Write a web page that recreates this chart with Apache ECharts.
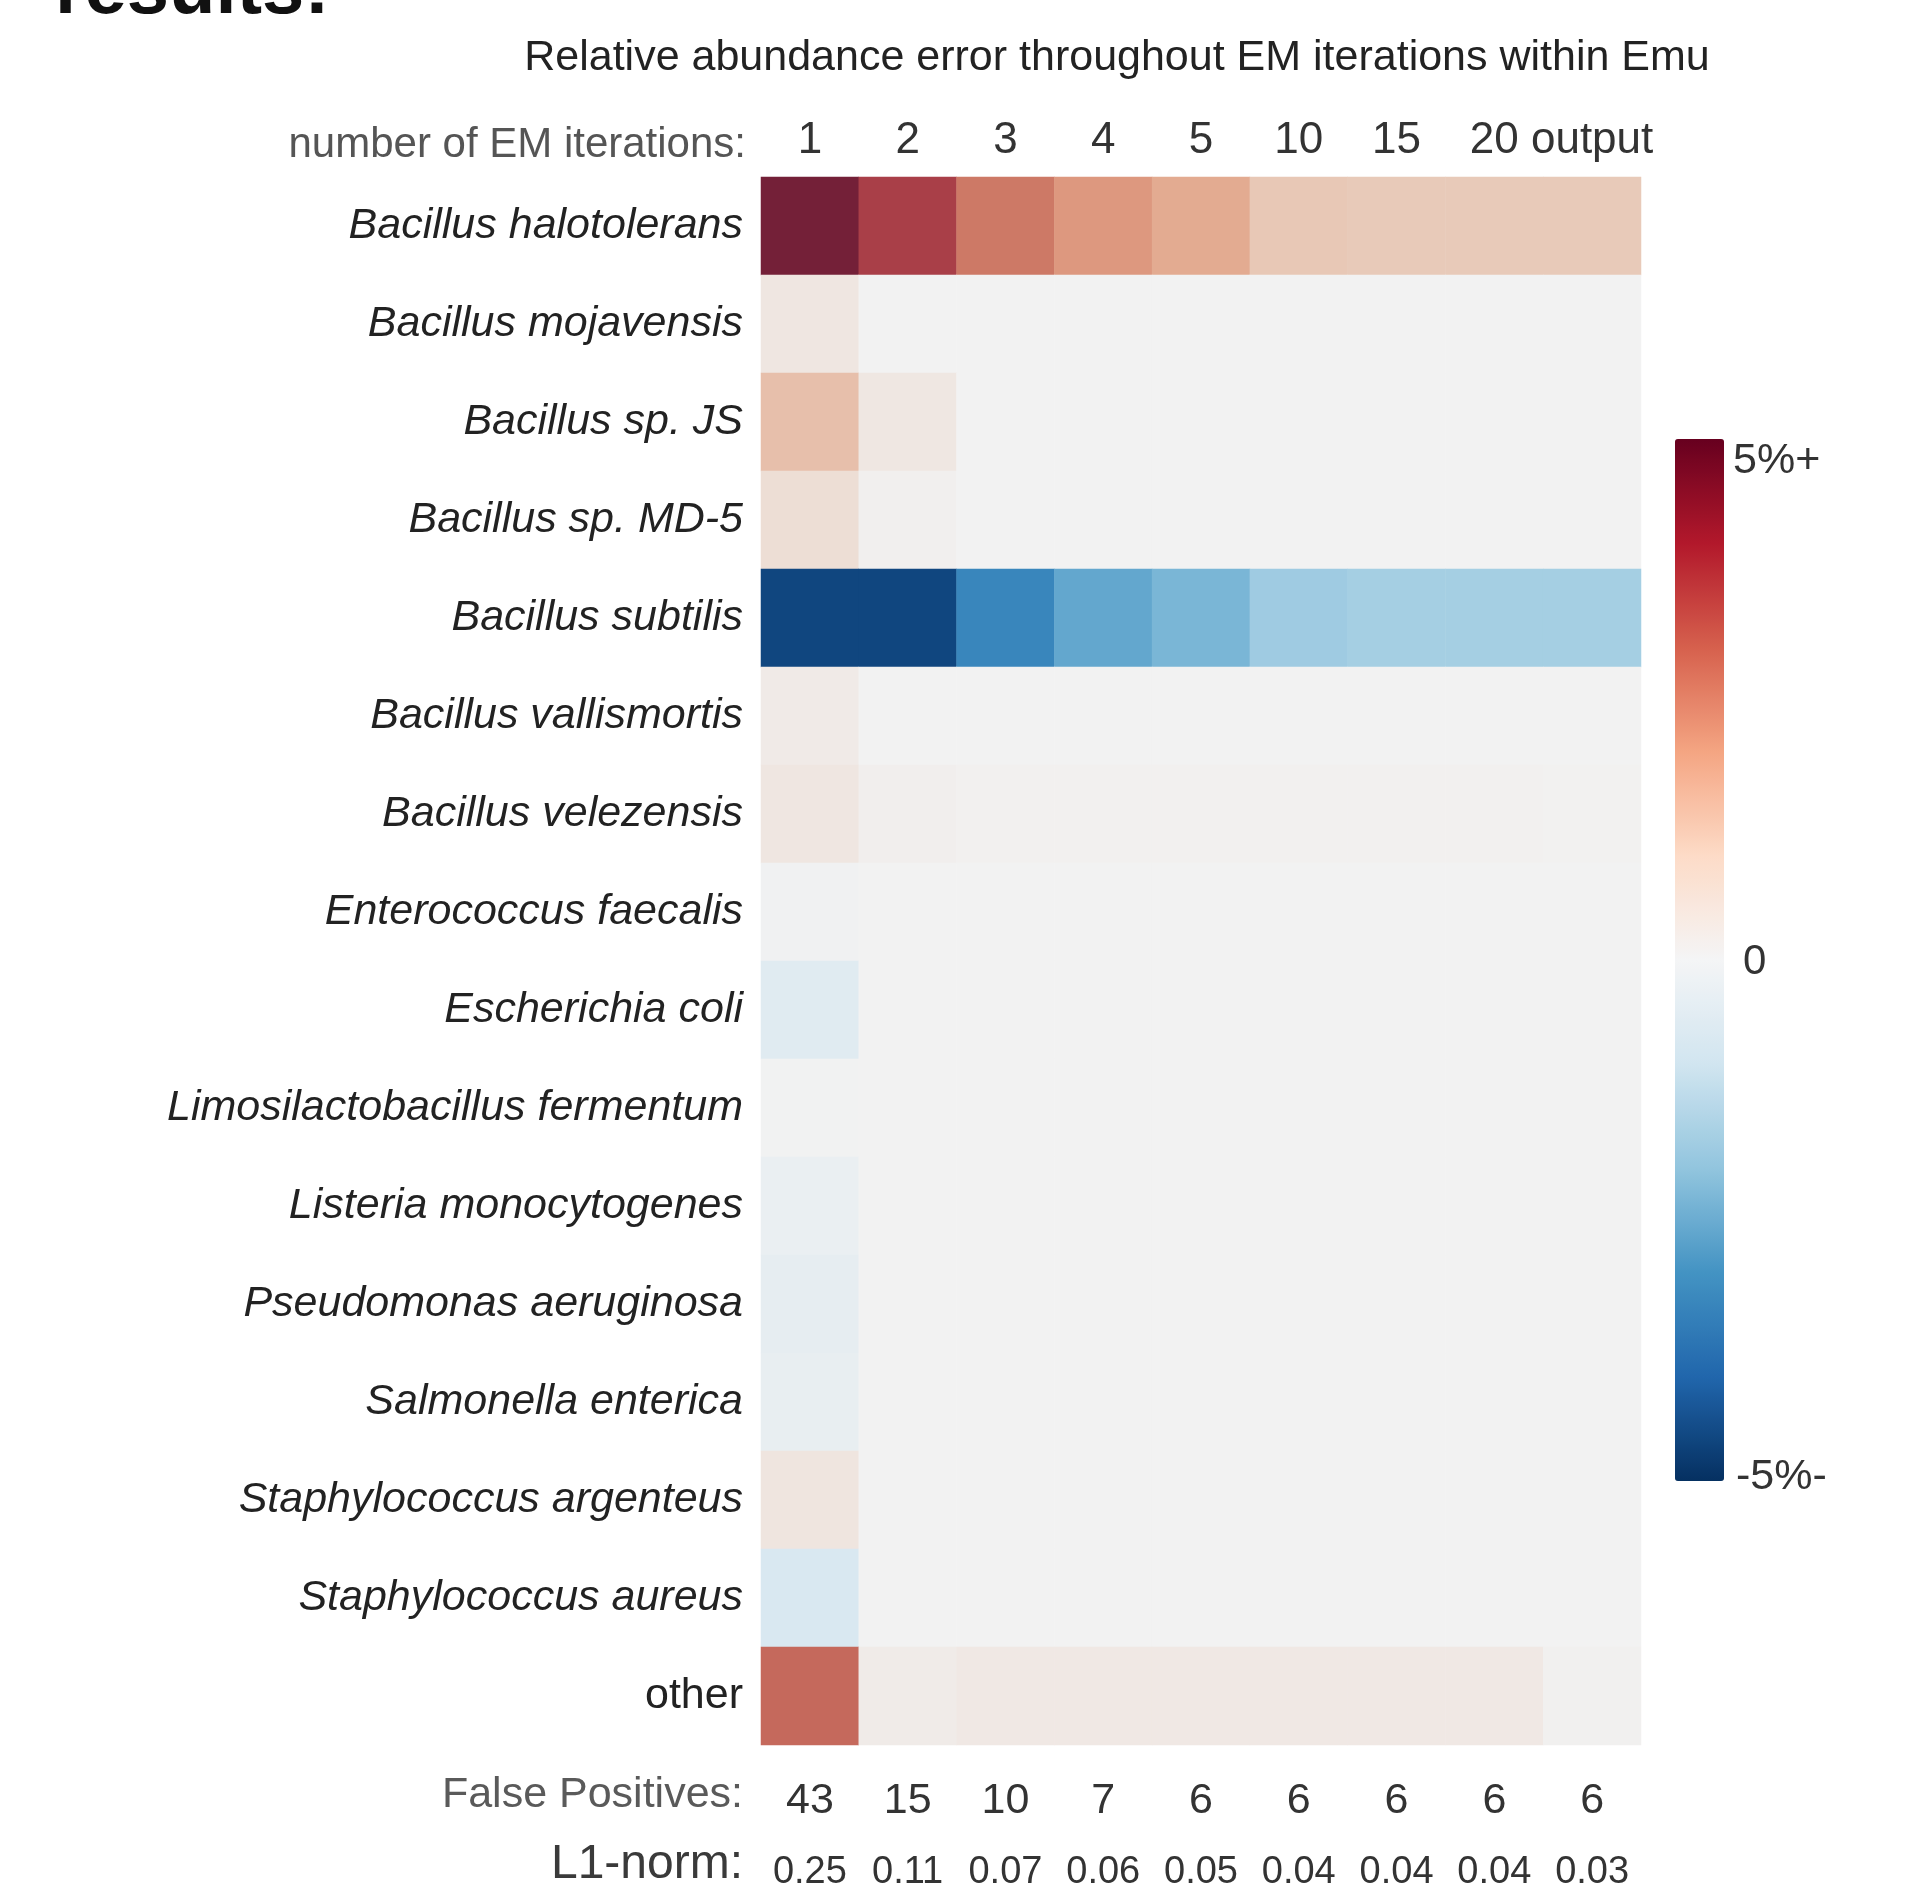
<!DOCTYPE html>
<html>
<head>
<meta charset="utf-8">
<script src="https://cdn.jsdelivr.net/npm/echarts@6/dist/echarts.min.js"></script>
<style>
  html, body { margin: 0; padding: 0; background: #fff; }
  #chart { width: 1923px; height: 1887px; }
</style>
</head>
<body>
<div id="chart"></div>
<script>
const species = [
  "Bacillus halotolerans",
  "Bacillus mojavensis",
  "Bacillus sp. JS",
  "Bacillus sp. MD-5",
  "Bacillus subtilis",
  "Bacillus vallismortis",
  "Bacillus velezensis",
  "Enterococcus faecalis",
  "Escherichia coli",
  "Limosilactobacillus fermentum",
  "Listeria monocytogenes",
  "Pseudomonas aeruginosa",
  "Salmonella enterica",
  "Staphylococcus argenteus",
  "Staphylococcus aureus",
  "other",
];
const iterations = ["1", "2", "3", "4", "5", "10", "15", "20", "output"];
const falsePositives = ["43", "15", "10", "7", "6", "6", "6", "6", "6"];
const l1Norm = ["0.25", "0.11", "0.07", "0.06", "0.05", "0.04", "0.04", "0.04", "0.03"];

// relative abundance error (%), one row per species, one value per iteration column
const relError = [
  [4.95, 3.9, 2.8, 2.2, 1.82, 1.15, 1.1, 1.1, 1.1],
  [0.33, 0, 0, 0, 0, 0, 0, 0, 0],
  [1.35, 0.3, 0, 0, 0, 0, 0, 0, 0],
  [0.55, 0.08, 0, 0, 0, 0, 0, 0, 0],
  [-4.6, -4.6, -3.3, -2.6, -2.3, -1.8, -1.7, -1.7, -1.7],
  [0.22, 0, 0, 0, 0, 0, 0, 0, 0],
  [0.32, 0.1, 0.05, 0.05, 0.05, 0.05, 0.05, 0.05, 0.03],
  [-0.05, 0, 0, 0, 0, 0, 0, 0, 0],
  [-0.55, 0, 0, 0, 0, 0, 0, 0, 0],
  [-0.02, 0, 0, 0, 0, 0, 0, 0, 0],
  [-0.25, 0, 0, 0, 0, 0, 0, 0, 0],
  [-0.35, 0, 0, 0, 0, 0, 0, 0, 0],
  [-0.3, 0, 0, 0, 0, 0, 0, 0, 0],
  [0.36, 0, 0, 0, 0, 0, 0, 0, 0],
  [-0.75, 0, 0, 0, 0, 0, 0, 0, 0],
  [3.1, 0.2, 0.27, 0.27, 0.27, 0.27, 0.27, 0.27, 0.06],
];
const colorbarLabels = ["5%+", "0", "-5%-"];

// colour bar (RdBu) and the slightly duller tones the cells are printed in
const rdBu = ["#053061", "#2166ac", "#4393c3", "#92c5de", "#d1e5f0", "#f4f5f6",
  "#fddbc7", "#f4a582", "#d6604d", "#b2182b", "#67001f"];
const cellTones = ["#053061", "#2166ac", "#4393c3", "#92c5de", "#d1e5f0", "#f2f2f2",
  "#e9cebe", "#e2a387", "#c86e5e", "#a63a45", "#711f37"];

const font = "'Liberation Sans', Arial, Helvetica, sans-serif";

// layout
const gridLeft = 761, gridTop = 177, gridW = 880, gridH = 1568;
const barLeft = 1675, barTop = 439, barW = 49, barH = 1042;

const cells = [];
relError.forEach((row, i) => {
  row.forEach((v, j) => cells.push([j, i, v]));
});

const chart = echarts.init(document.getElementById("chart"), null, { renderer: "canvas" });

const option = {
  backgroundColor: "#fff",
  animation: false,
  textStyle: { fontFamily: font },
  title: {
    text: "Relative abundance error throughout EM iterations within Emu",
    left: 1112,
    top: 32,
    textAlign: "center",
    textStyle: { fontSize: 43, fontWeight: "normal", color: "#222", fontFamily: font },
  },
  grid: {
    left: gridLeft,
    top: gridTop,
    width: gridW,
    height: gridH,
    containLabel: false,
    outerBoundsMode: "none",
  },
  xAxis: [
    {
      type: "category",
      data: iterations,
      position: "top",
      axisLine: { show: false },
      axisTick: { show: false },
      splitLine: { show: false },
      axisLabel: { fontSize: 44, color: "#333", margin: 14, interval: 0 },
    },
    {
      type: "category",
      data: falsePositives,
      position: "bottom",
      axisLine: { show: false },
      axisTick: { show: true, inside: true, alignWithLabel: true, length: 7, lineStyle: { color: "#c8c8c8", width: 2 } },
      axisLabel: { fontSize: 43, color: "#333", margin: 35, interval: 0 },
    },
    {
      type: "category",
      data: l1Norm,
      position: "bottom",
      axisLine: { show: false },
      axisTick: { show: false },
      axisLabel: { fontSize: 38, color: "#333", margin: 109, interval: 0 },
    },
  ],
  yAxis: {
    type: "category",
    data: species,
    inverse: true,
    axisLine: { show: false },
    axisTick: { show: true, inside: true, alignWithLabel: true, length: 6, lineStyle: { color: "#777", width: 2 } },
    splitLine: { show: false },
    axisLabel: {
      fontSize: 43,
      color: "#222",
      margin: 18,
      interval: 0,
      formatter: (v) => (v === "other" ? "{n|" + v + "}" : "{i|" + v + "}"),
      rich: {
        i: { fontSize: 43, fontStyle: "italic", color: "#222", fontFamily: font },
        n: { fontSize: 43, color: "#222", fontFamily: font },
      },
    },
  },
  visualMap: [
    {
      type: "continuous",
      seriesIndex: 0,
      show: false,
      min: -5,
      max: 5,
      inRange: { color: cellTones },
    },
    {
      type: "continuous",
      seriesIndex: 1,
      min: -5,
      max: 5,
      calculable: false,
      orient: "vertical",
      left: barLeft,
      top: barTop,
      itemWidth: barW,
      itemHeight: barH,
      padding: 0,
      text: null,
      hoverLink: false,
      inRange: { color: rdBu },
    },
  ],
  graphic: [
    {
      type: "text",
      left: 55,
      top: -46,
      style: { text: "results:", font: "bold 76px " + font, fill: "#111" },
    },
    {
      type: "text",
      x: gridLeft - 15,
      y: 145,
      style: { text: "number of EM iterations:", font: "42px " + font, fill: "#555", textAlign: "right", textVerticalAlign: "middle" },
    },
    {
      type: "text",
      x: gridLeft - 18,
      y: 1795,
      style: { text: "False Positives:", font: "43px " + font, fill: "#5a5a5a", textAlign: "right", textVerticalAlign: "middle" },
    },
    {
      type: "text",
      x: gridLeft - 18,
      y: 1865,
      style: { text: "L1-norm:", font: "48px " + font, fill: "#3a3a3a", textAlign: "right", textVerticalAlign: "middle" },
    },
    {
      type: "text",
      x: barLeft + barW + 9,
      y: barTop + 22,
      style: { text: colorbarLabels[0], font: "43px " + font, fill: "#333", textAlign: "left", textVerticalAlign: "middle" },
    },
    {
      type: "text",
      x: barLeft + barW + 19,
      y: barTop + barH / 2 + 2,
      style: { text: colorbarLabels[1], font: "42px " + font, fill: "#333", textAlign: "left", textVerticalAlign: "middle" },
    },
    {
      type: "text",
      x: barLeft + barW + 12,
      y: barTop + barH - 4,
      style: { text: colorbarLabels[2], font: "43px " + font, fill: "#333", textAlign: "left", textVerticalAlign: "middle" },
    },
  ],
  series: [
    {
      type: "heatmap",
      xAxisIndex: 0,
      yAxisIndex: 0,
      data: cells,
      itemStyle: { borderWidth: 0 },
      emphasis: { disabled: true },
      silent: true,
    },
    {
      // empty series that only carries the visible colour bar
      type: "heatmap",
      xAxisIndex: 0,
      yAxisIndex: 0,
      data: [],
      silent: true,
    },
  ],
};

chart.setOption(option);
window.addEventListener("resize", () => chart.resize());
</script>
</body>
</html>
